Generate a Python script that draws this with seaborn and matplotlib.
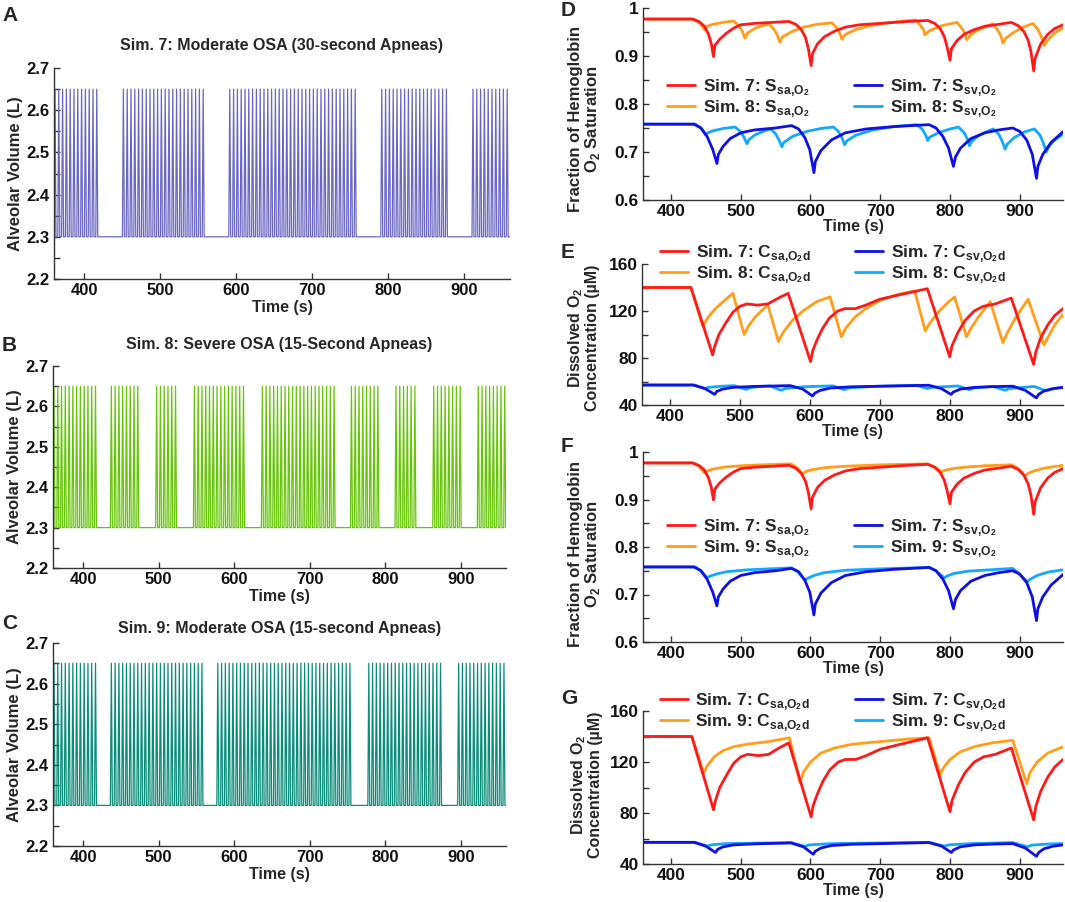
import matplotlib
matplotlib.use("Agg")
import matplotlib.pyplot as plt
from matplotlib.ticker import MultipleLocator
import seaborn as sns
import pandas as pd
import numpy as np

# ---- data ----
# apnea (flat volume) intervals, seconds
sim7_apneas = [(420, 450), (560, 590), (760, 790), (880, 910)]
sim8_apneas = [(420, 436), (480, 496), (530, 546), (620, 636),
               (738, 754), (797, 813), (847, 863), (906, 922)]
sim9_apneas = [(420, 436), (561, 577), (761, 777), (880, 896)]
breath_period = 5.0      # s per breath
breath_duration = 2.6    # s of each inspiration/expiration spike
vol_min, vol_max = 2.3, 2.65

# arterial / venous saturation, Sim 7
sa7_t = [360, 430, 440, 448, 454, 458, 461, 463, 470, 480, 490, 500, 520, 545, 569,
         579, 587, 593, 597, 601, 603, 610, 620, 635, 650, 670, 700, 740, 768,
         778, 786, 792, 796, 800, 802, 810, 820, 835, 850, 870, 888,
         898, 906, 912, 916, 920, 922, 930, 940, 950, 962]
sa7_v = [.977, .977, .972, .962, .945, .925, .899, .922, .935, .948, .958, .965, .968, .970, .972,
         .966, .955, .938, .915, .880, .905, .925, .940, .952, .960, .965, .968, .972, .974,
         .968, .957, .940, .918, .891, .915, .932, .945, .955, .962, .966, .970,
         .963, .951, .933, .910, .869, .895, .925, .945, .957, .965]
sv7_t = [360, 433, 443, 452, 460, 466, 468, 475, 485, 500, 520, 550, 573,
         583, 592, 599, 605, 607, 615, 630, 650, 680, 720, 770,
         780, 790, 798, 805, 808, 815, 830, 850, 870, 890,
         900, 910, 918, 924, 926, 933, 945, 962]
sv7_v = [.758, .758, .750, .732, .705, .676, .695, .712, .728, .740, .746, .750, .755,
         .748, .730, .705, .657, .680, .703, .725, .740, .748, .753, .757,
         .750, .732, .708, .670, .690, .708, .728, .740, .746, .750,
         .743, .725, .695, .645, .670, .695, .720, .742]

# Sim 8 saturation
sa8_t = [360, 433, 440, 445, 448, 452, 460, 475, 490, 498, 503, 506, 510, 520, 530, 541,
         548, 553, 556, 560, 575, 590, 610, 631, 638, 642, 645, 650, 665, 685, 710, 735, 751,
         758, 762, 764, 770, 785, 800, 810, 817, 821, 824, 830, 840, 850, 861,
         868, 873, 876, 880, 890, 905, 919, 926, 931, 935, 940, 950, 962]
sa8_v = [.977, .977, .970, .962, .955, .962, .966, .970, .973, .962, .950, .937, .948, .957, .963, .966,
         .955, .942, .929, .940, .952, .960, .966, .969, .958, .948, .935, .945, .955, .963, .969, .973, .975,
         .963, .955, .944, .952, .962, .967, .970, .958, .948, .934, .945, .954, .960, .967,
         .955, .942, .927, .937, .948, .960, .968, .955, .940, .922, .933, .948, .958]
sv8_t = [360, 435, 443, 450, 453, 460, 475, 492, 500, 505, 509, 512, 520, 532, 543,
         550, 555, 559, 562, 575, 595, 615, 633, 640, 645, 649, 652, 665, 690, 720, 752,
         760, 765, 768, 771, 785, 800, 812, 820, 825, 828, 831, 840, 852, 862,
         870, 875, 879, 882, 892, 907, 921, 929, 934, 938, 942, 950, 962]
sv8_v = [.758, .758, .750, .736, .740, .744, .749, .752, .742, .730, .717, .726, .735, .743, .748,
         .738, .725, .711, .720, .733, .743, .749, .752, .743, .730, .715, .723, .735, .746, .753, .757,
         .748, .736, .724, .731, .741, .748, .752, .741, .727, .713, .722, .733, .742, .748,
         .737, .722, .706, .716, .730, .742, .748, .735, .718, .700, .712, .725, .737]

# Sim 9 saturation
sa9_t = [360, 433, 440, 448, 452, 460, 475, 500, 530, 572, 580, 585, 588, 592, 600, 620, 650,
         700, 768, 776, 783, 788, 792, 800, 820, 850, 888, 896, 902, 907, 912, 920, 935, 962]
sa9_v = [.977, .977, .970, .956, .960, .964, .968, .971, .973, .975, .968, .961, .953, .958, .962,
         .967, .970, .973, .975, .970, .964, .958, .961, .964, .968, .971, .973, .967, .960, .950,
         .955, .960, .966, .972]
sv9_t = [360, 435, 443, 452, 455, 465, 480, 510, 573, 582, 592, 596, 605, 620, 650, 700, 770,
         780, 792, 796, 805, 825, 890, 898, 911, 915, 925, 940, 962]
sv9_v = [.758, .758, .750, .735, .738, .743, .748, .752, .756, .748, .730, .734, .740, .746, .751,
         .754, .757, .750, .735, .739, .744, .749, .755, .745, .727, .732, .740, .747, .752]

# dissolved O2 concentration (uM)
ca7_t = [360, 430, 461, 464, 470, 480, 490, 500, 510, 525, 540, 555, 569, 601, 604, 610, 618,
         628, 640, 650, 665, 680, 700, 730, 768, 800, 803, 812, 822, 835, 848, 865, 888,
         920, 923, 930, 940, 950, 962]
ca7_v = [140, 140, 82.6, 90, 100, 110, 119, 124, 126, 125, 126, 131, 135, 77, 86, 95, 105,
         114, 120, 122, 122, 125, 130, 134, 139, 81, 90, 102, 112, 120, 124, 126, 131,
         74.6, 85, 97, 108, 116, 122]
ca8_t = [360, 430, 447, 455, 465, 478, 490, 506, 512, 522, 532, 540, 555, 562, 575, 590, 610,
         629, 645, 652, 665, 680, 700, 725, 750, 765, 772, 785, 797, 807, 824, 830, 840,
         850, 858, 876, 882, 892, 903, 912, 935, 940, 950, 962]
ca8_v = [140, 140, 107, 115, 122, 129, 135, 100, 107, 115, 121, 125, 94, 102, 112, 120, 128,
         132, 98, 106, 115, 122, 129, 134, 137, 103, 110, 120, 127, 132, 98, 105, 114,
         122, 128, 93, 101, 112, 122, 130, 91, 97, 108, 117]
ca9_t = [360, 430, 447, 452, 462, 475, 490, 510, 540, 570, 585, 590, 600, 615, 635, 660, 700,
         740, 770, 786, 790, 800, 815, 835, 860, 890, 910, 915, 925, 940, 962]
ca9_v = [140, 140, 111, 117, 124, 129, 132, 134, 136, 139, 104, 112, 120, 127, 131, 134, 136,
         138, 139, 110, 115, 122, 128, 132, 135, 137, 103, 112, 120, 127, 132]
cv7_t = [360, 433, 450, 464, 467, 475, 490, 520, 572, 590, 604, 607, 615, 630, 660, 720, 770,
         788, 802, 805, 815, 835, 860, 890, 908, 924, 927, 935, 948, 962]
cv7_v = [57, 57, 54, 49, 51.5, 53.5, 55, 55.8, 56.5, 53.5, 47.6, 50, 52.5, 54.5, 55.5, 56.2, 56.8,
         54, 49, 51, 53.5, 55, 55.6, 56, 52.5, 46, 49, 52, 54, 55]
cv8_t = [360, 435, 450, 455, 475, 492, 509, 515, 530, 543, 559, 565, 590, 633, 649, 655, 690,
         752, 768, 775, 800, 812, 828, 835, 862, 879, 885, 921, 938, 945, 962]
cv8_v = [57, 57, 54, 55, 56, 56.5, 53.2, 54.8, 55.8, 56.2, 52.5, 54, 55.5, 56.3, 53, 54.5, 55.8,
         56.8, 54, 55, 55.8, 56.2, 53, 54.5, 55.8, 52.5, 54, 55.8, 52, 53.5, 55]
cv9_t = [360, 435, 452, 458, 480, 573, 592, 598, 630, 770, 792, 798, 830, 890, 911, 917, 945, 962]
cv9_v = [57, 57, 54, 55, 56, 56.8, 53.8, 55, 56, 57, 54, 55, 56, 56.8, 53.5, 54.8, 55.8, 56]

time_ticks = [400, 500, 600, 700, 800, 900]

RED, ORANGE, BLUE, LIGHTBLUE = "#ff1a1a", "#ff9e1b", "#1010e0", "#12a8ff"

# ---- style ----
sns.set_theme(style="ticks")
plt.rcParams["font.family"] = ["Liberation Sans", "DejaVu Sans"]
plt.rcParams["font.weight"] = "bold"
plt.rcParams["axes.labelweight"] = "bold"
plt.rcParams["axes.titleweight"] = "bold"
plt.rcParams["mathtext.fontset"] = "custom"
plt.rcParams["mathtext.rm"] = "Liberation Sans:bold"
plt.rcParams["mathtext.bf"] = "Liberation Sans:bold"

W, H = 1065, 902
fig = plt.figure(figsize=(W / 100, H / 100), dpi=100)


def px_axes(left, right, top, bottom):
    return fig.add_axes([left / W, (H - bottom) / H, (right - left) / W, (bottom - top) / H])


def style_axes(ax, labelsize=12):
    sns.despine(ax=ax)
    for s in ["left", "bottom"]:
        ax.spines[s].set_color("#333333")
        ax.spines[s].set_linewidth(1.0)
    ax.tick_params(which="both", direction="in", length=4, width=1, color="#333333",
                   labelsize=labelsize, labelcolor="#111111", pad=3)
    ax.set_xticks(time_ticks)


def breathing_trace(apneas):
    # breaths between apneas, flat at end-expiratory volume during each apnea
    t, v = [], []
    segs = []
    start = 360
    for a0, a1 in apneas:
        segs.append((start, a0))
        start = a1
    segs.append((start, 964))
    for s, e in segs:
        k = s
        while k + breath_period <= e + 0.01:
            t += [k, k + breath_duration / 2, k + breath_duration]
            v += [vol_min, vol_max, vol_min]
            k += breath_period
        t.append(k)
        v.append(vol_min)
    return pd.DataFrame({"Time": t, "Volume": v})


vol_panels = [
    ((54, 510, 68, 279), sim7_apneas, "#6a66c2", "Sim. 7: Moderate OSA (30-second Apneas)", 13),
    ((53, 506, 366, 568), sim8_apneas, "#66c40a", "Sim. 8: Severe OSA (15-Second Apneas)", 12),
    ((53, 506, 643, 846), sim9_apneas, "#0a8c78", "Sim. 9: Moderate OSA (15-second Apneas)", 7),
]
for box, apneas, color, title, pad in vol_panels:
    ax = px_axes(*box)
    df = breathing_trace(apneas)
    sns.lineplot(data=df, x="Time", y="Volume", ax=ax, color=color, lw=0.9,
                 estimator=None, sort=False)
    ax.set_xlim(360, 960)
    ax.set_ylim(2.2, 2.7)
    style_axes(ax)
    ax.yaxis.set_major_locator(MultipleLocator(0.1))
    ax.yaxis.set_minor_locator(MultipleLocator(0.05))
    ax.set_title(title, fontsize=11.5, pad=pad)
    ax.set_xlabel("Time (s)", fontsize=11.5, labelpad=1)
    ax.set_ylabel("Alveolar Volume (L)", fontsize=12, labelpad=3)


def line(ax, t, v, color, label):
    df = pd.DataFrame({"Time": t, "Value": v})
    sns.lineplot(data=df, x="Time", y="Value", ax=ax, color=color, lw=2.0,
                 estimator=None, sort=False, label=label)


sat_a = "S$_{\\mathregular{sa{,}O_2}}$"
sat_v = "S$_{\\mathregular{sv{,}O_2}}$"
con_a = "C$_{\\mathregular{sa{,}O_2d}}$"
con_v = "C$_{\\mathregular{sv{,}O_2d}}$"

# box, kind, comparison sim, arterial, venous, legend anchor, ylabel anchor (right edge, centre)
right_panels = [
    ((643, 1063, 8, 200), "sat", "8", (sa8_t, sa8_v), (sv8_t, sv8_v), (0.057, 0.64), (-0.098, 0.42)),
    ((642, 1063, 264, 405), "con", "8", (ca8_t, ca8_v), (cv8_t, cv8_v), (0.043, 1.15), (-0.100, 0.48)),
    ((643, 1063, 452, 642), "sat", "9", (sa9_t, sa9_v), (sv9_t, sv9_v), (0.057, 0.658), (-0.097, 0.463)),
    ((643, 1063, 711, 864), "con", "9", (ca9_t, ca9_v), (cv9_t, cv9_v), (0.04, 1.131), (-0.095, 0.515)),
]
for box, kind, sim, art, ven, leg_xy, lab_xy in right_panels:
    ax = px_axes(*box)
    if kind == "sat":
        a7, v7, la, lv = (sa7_t, sa7_v), (sv7_t, sv7_v), sat_a, sat_v
    else:
        a7, v7, la, lv = (ca7_t, ca7_v), (cv7_t, cv7_v), con_a, con_v
    line(ax, *art, ORANGE, f"Sim. {sim}: " + la)
    line(ax, *a7, RED, "Sim. 7: " + la)
    line(ax, *ven, LIGHTBLUE, f"Sim. {sim}: " + lv)
    line(ax, *v7, BLUE, "Sim. 7: " + lv)
    handles, labels = ax.get_legend_handles_labels()
    order = [1, 0, 3, 2]
    ax.legend([handles[i] for i in order], [labels[i] for i in order], ncol=2,
              loc="upper left", bbox_to_anchor=leg_xy, frameon=False, fontsize=12.5,
              handlelength=1.6, handletextpad=0.45, columnspacing=2.6, labelspacing=0.02,
              borderpad=0, borderaxespad=0)
    ax.set_xlim(360, 962)
    style_axes(ax, labelsize=12.5)
    if kind == "sat":
        ax.set_ylim(0.6, 1.0)
        ax.set_yticks([0.6, 0.7, 0.8, 0.9, 1.0])
        ax.set_yticklabels(["0.6", "0.7", "0.8", "0.9", "1"])
        ax.yaxis.set_minor_locator(MultipleLocator(0.05))
        ax.set_ylabel("Fraction of Hemoglobin\nO$_\\mathregular{2}$ Saturation",
                      fontsize=12, linespacing=1.0)
    else:
        ax.set_ylim(40, 160)
        ax.set_yticks([40, 80, 120, 160])
        ax.yaxis.set_minor_locator(MultipleLocator(20))
        ax.set_ylabel("Dissolved O$_\\mathregular{2}$\nConcentration (\u00b5M)",
                      fontsize=11.5, linespacing=1.0)
    ax.yaxis.set_label_coords(*lab_xy)
    ax.set_xlabel("Time (s)", fontsize=11.5, labelpad=0)

for letter, x, y in [("A", 2, 6), ("B", 2, 336), ("C", 2, 614),
                     ("D", 561, 1), ("E", 561, 243), ("F", 561, 437), ("G", 561, 689)]:
    fig.text(x / W, 1 - y / H, letter, fontsize=15, fontweight="bold", va="top", ha="left")

fig.savefig("out.png", dpi=100)
